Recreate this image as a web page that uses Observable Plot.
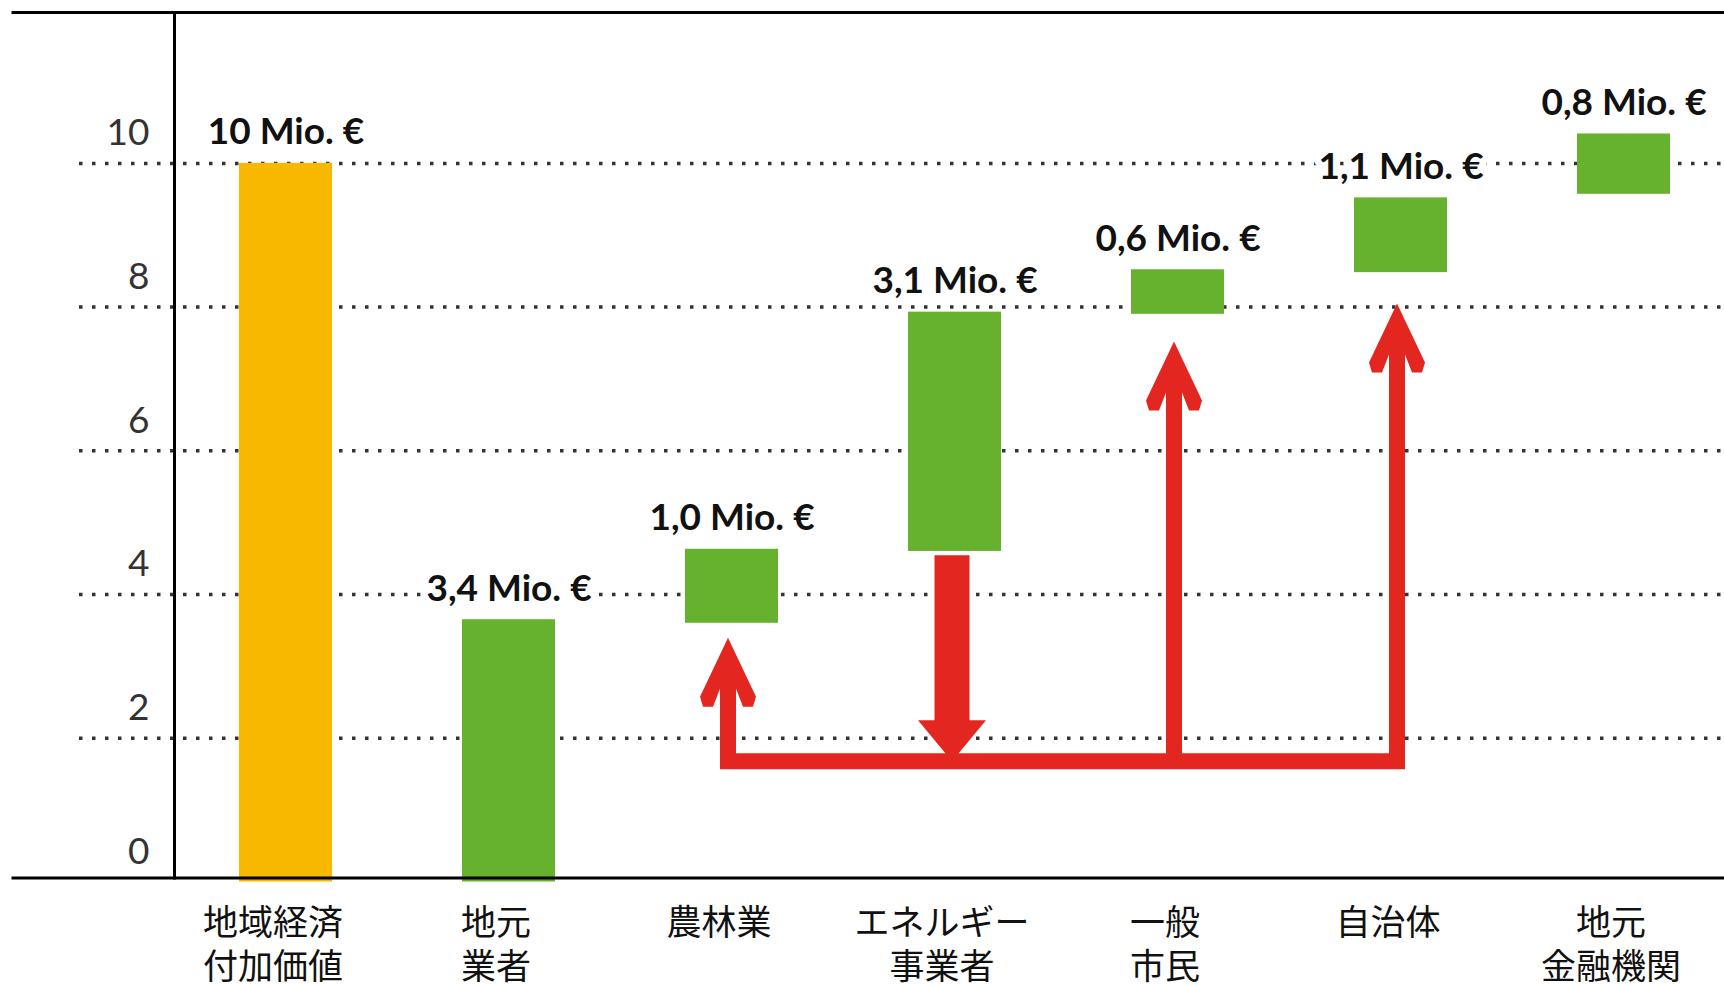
<!DOCTYPE html>
<html>
<head>
<meta charset="utf-8">
<script src="https://cdn.jsdelivr.net/npm/d3@7"></script>
<script src="https://cdn.jsdelivr.net/npm/@observablehq/plot@0.6"></script>
<style>
  html, body { margin: 0; padding: 0; background: #fff; }
</style>
</head>
<body>
<div id="chart"></div>
<script>
// ---- data ----
const categories = ["地域経済付加価値", "地元業者", "農林業", "エネルギー事業者", "一般市民", "自治体", "地元金融機関"];
const categoryLabels = ["地域経済\n付加価値", "地元\n業者", "農林業", "エネルギー\n事業者", "一般\n市民", "自治体", "地元\n金融機関"];
const barStart = [0, 0, 3.6, 4.6, 7.9, 8.48, 9.57];
const barEnd = [10, 3.65, 4.63, 7.93, 8.52, 9.52, 10.41];
const amounts = [10, 3.4, 1.0, 3.1, 0.6, 1.1, 0.8];
const barKind = ["total", "share", "share", "share", "share", "share", "share"];
const yTicks = [0, 2, 4, 6, 8, 10];
const yTop = 12.1;

// red flow arrows
const flowLevel = 1.68;
const outflowCategory = "エネルギー事業者";
const outflowTop = 4.54;
const inflowCategories = ["農林業", "一般市民", "自治体"];
const inflowTips = [3.40, 7.52, 8.05];

// ---- styles ----
const RED = "#e3261f", GREEN = "#66b22f", YELLOW = "#f9b800";

const bars = categories.map((c, i) => ({
  cat: c, label: categoryLabels[i], start: barStart[i], end: barEnd[i],
  amount: amounts[i], kind: barKind[i]
}));
const inflows = inflowCategories.map((c, i) => ({cat: c, tip: inflowTips[i]}));
const outflow = [{cat: outflowCategory, top: outflowTop}];
const flowSpan = [{cat: inflowCategories[0]}, {cat: inflowCategories[inflowCategories.length - 1]}];

const fmt = v => (v >= 10 ? String(Math.round(v)) : v.toFixed(1).replace(".", ",")) + " Mio. €";

// arrowhead shapes (tip at origin)
const upHead = {
  draw(ctx) {
    ctx.moveTo(0, 0);
    ctx.lineTo(-28, 59); ctx.lineTo(-25, 69); ctx.lineTo(-15, 69); ctx.lineTo(-8, 51);
    ctx.lineTo(8, 51); ctx.lineTo(15, 69); ctx.lineTo(25, 69); ctx.lineTo(28, 59);
    ctx.closePath();
  }
};
const downHead = {
  draw(ctx) {
    ctx.moveTo(0, 0); ctx.lineTo(-34, -41); ctx.lineTo(34, -41); ctx.closePath();
  }
};

const chart = Plot.plot({
  width: 1724,
  height: 985,
  marginTop: 12,
  marginBottom: 103.5,
  marginLeft: 174,
  marginRight: 0,
  style: {fontFamily: "Lato, 'Noto Sans', sans-serif", background: "white", color: "#111"},
  x: {type: "band", domain: categories, range: [174, 1734], paddingInner: 0.583, paddingOuter: 0.289, axis: null},
  y: {domain: [0, yTop], axis: null},
  marks: [
    // dotted gridlines
    Plot.ruleY(yTicks.filter(t => t > 0), {stroke: "#333", strokeWidth: 3.5, strokeDasharray: "3.5 9.5", insetLeft: -95}),
    // bars
    Plot.barY(bars, {x: "cat", y1: "start", y2: "end", fill: d => d.kind === "total" ? YELLOW : GREEN}),
    // frame lines
    Plot.ruleY([yTop], {stroke: "black", strokeWidth: 3, insetLeft: -162.5}),
    Plot.ruleY([0], {stroke: "black", strokeWidth: 3, insetLeft: -162.5, dy: -4}),
    Plot.frame({anchor: "left", stroke: "black", strokeWidth: 3, insetBottom: 4}),
    // red flows
    Plot.ruleX(outflow, {x: "cat", y1: "top", y2: () => flowLevel, stroke: RED, strokeWidth: 35, insetBottom: 38, dx: -3}),
    Plot.dot(outflow, {x: "cat", y: () => flowLevel, symbol: downHead, r: 1, fill: RED, dx: -3}),
    Plot.line(flowSpan, {x: "cat", y: () => flowLevel, stroke: RED, strokeWidth: 16, strokeLinecap: "square", dx: -4}),
    Plot.ruleX(inflows, {x: "cat", y1: "tip", y2: () => flowLevel, stroke: RED, strokeWidth: 16, insetTop: 30, dx: -4}),
    Plot.dot(inflows, {x: "cat", y: "tip", symbol: upHead, r: 1, fill: RED, dx: -4}),
    // value labels
    Plot.text(bars, {x: "cat", y: "end", text: d => fmt(d.amount), dy: -19, lineAnchor: "bottom",
      fontSize: 37, fontWeight: "bold", fill: "#111", stroke: "white", strokeWidth: 14}),
    // y tick labels
    Plot.text(yTicks, {y: d => d, text: d => String(d), frameAnchor: "left", textAnchor: "end",
      dx: -25, dy: -30, fontSize: 37, fill: "#333"}),
    // category labels
    Plot.text(bars, {x: "cat", text: "label", frameAnchor: "bottom", lineAnchor: "top", dy: 22, dx: -13,
      fontSize: 35, lineHeight: 1.26, fontFamily: "'Noto Sans CJK JP', sans-serif", fill: "#111"})
  ]
});
document.getElementById("chart").appendChild(chart);
</script>
</body>
</html>
